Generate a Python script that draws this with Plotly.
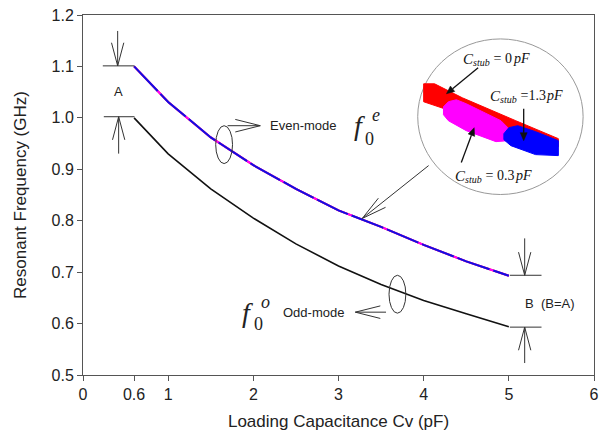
import math
import plotly.graph_objects as go

# ---- data ----
cv = [0.6, 1.0, 1.5, 2.0, 2.5, 3.0, 3.5, 4.0, 4.5, 5.0]
f_even = [1.100, 1.031, 0.962, 0.908, 0.862, 0.820, 0.788, 0.753, 0.721, 0.693]
f_odd = [1.000, 0.930, 0.862, 0.805, 0.755, 0.712, 0.676, 0.645, 0.619, 0.594]
x_ticks = [0, 0.6, 1, 2, 3, 4, 5, 6]
x_tick_labels = ["0", "0.6", "1", "2", "3", "4", "5", "6"]
y_ticks = [0.5, 0.6, 0.7, 0.8, 0.9, 1.0, 1.1, 1.2]
stub_values = ["0", "1.3", "0.3"]

W, H = 606, 447
L, R, T, B = 83, 7, 14, 72
XMIN, XMAX, YMIN, YMAX = 0, 6, 0.5, 1.2
PW, PH = W - L - R, H - T - B


def dx(px):
    return XMIN + (px - L) / PW * (XMAX - XMIN)


def dy(py):
    return YMAX - (py - T) / PH * (YMAX - YMIN)


SANS = "Arial, Liberation Sans, sans-serif"
SERIF = "Times New Roman, Liberation Serif, serif"

fig = go.Figure()
fig.add_trace(go.Scatter(x=cv, y=f_even, mode="lines", line=dict(color="#ff0000", width=2), showlegend=False))
fig.add_trace(go.Scatter(x=cv, y=f_even, mode="lines", line=dict(color="#ff00ff", width=2), showlegend=False))
fig.add_trace(go.Scatter(x=cv, y=f_even, mode="lines", line=dict(color="#1010e0", width=2, dash="34px,4px"), showlegend=False))
fig.add_trace(go.Scatter(x=cv, y=f_odd, mode="lines", line=dict(color="#111111", width=1.6), showlegend=False))

shapes = []
annos = []


def seg(p1, p2, color="#333333", width=1):
    shapes.append(dict(type="line", xref="x", yref="y", x0=dx(p1[0]), y0=dy(p1[1]),
                       x1=dx(p2[0]), y1=dy(p2[1]), line=dict(color=color, width=width)))


def varrow(tail, head, wing=24, ang=15, color="#333333", width=1):
    seg(tail, head, color, width)
    vx, vy = tail[0] - head[0], tail[1] - head[1]
    n = math.hypot(vx, vy)
    ux, uy = vx / n, vy / n
    for s in (1, -1):
        a = math.radians(ang * s)
        wx = ux * math.cos(a) - uy * math.sin(a)
        wy = ux * math.sin(a) + uy * math.cos(a)
        seg(head, (head[0] + wx * wing, head[1] + wy * wing), color, width)


def ellipse(x0, y0, x1, y1, color="#333333", width=1):
    shapes.append(dict(type="circle", xref="x", yref="y", x0=dx(x0), x1=dx(x1),
                       y0=dy(y1), y1=dy(y0), line=dict(color=color, width=width)))


def poly(pts, color, lw=1):
    path = "M " + " L ".join(f"{dx(px)},{dy(py)}" for px, py in pts) + " Z"
    shapes.append(dict(type="path", xref="x", yref="y", path=path, fillcolor=color,
                       line=dict(color=color, width=lw), layer="above"))


def farrow(tail, head, hl=8, hw=3.5, color="#111111"):
    vx, vy = head[0] - tail[0], head[1] - tail[1]
    n = math.hypot(vx, vy)
    ux, uy = vx / n, vy / n
    base = (head[0] - ux * hl, head[1] - uy * hl)
    seg(tail, base, color, 1.3)
    poly([head, (base[0] - uy * hw, base[1] + ux * hw), (base[0] + uy * hw, base[1] - ux * hw)], color, 0.5)


def text(px, py, s, size=13, family=SANS, xanchor="center", color="#222222", style="normal"):
    annos.append(dict(x=dx(px), y=dy(py), xref="x", yref="y", text=s, showarrow=False,
                      xanchor=xanchor, yanchor="middle",
                      font=dict(size=size, family=family, color=color, style=style)))


def stub_label(px, py, val):
    c = "#111111"
    text(px, py, "C", 15, SERIF, "left", c, "italic")
    text(px + 10, py + 4, "stub", 10, SERIF, "left", c, "italic")
    rest = " = " + val if val != "1.3" else " =" + val
    text(px + 27, py, rest, 14, SERIF, "left", c)
    w = 3.5 + 8 + (3.5 if val != "1.3" else 0) + 7 * sum(ch.isdigit() for ch in val) + 3.5 * val.count(".")
    text(px + 28 + w, py, "pF", 14, SERIF, "left", c, "italic")


# left reference (A)
seg((103, 65), (135, 65))
seg((104, 116), (135, 116))
varrow((118, 30), (118, 65), wing=24, ang=15)
varrow((119, 153), (119, 116), wing=24, ang=15)
text(119, 91, "A", 13)

# right reference (B)
seg((514, 275), (546, 275))
seg((514, 327), (546, 327))
varrow((529, 238), (529, 275), wing=24, ang=15)
varrow((529, 363), (529, 327), wing=24, ang=15)
text(527, 303, "B  (B=A)", 13, xanchor="left")

# even-mode marker
ellipse(217, 125, 234, 163)
varrow((229, 125), (262, 125), wing=26, ang=14)
text(270, 125, "Even-mode", 13, xanchor="left")
text(362, 125, "f", 28, SERIF, style="italic")
text(372, 138, "0", 18, SERIF)
text(379, 114, "e", 18, SERIF, style="italic")

# odd-mode marker
ellipse(392, 275, 409, 313)
varrow((389, 312), (358, 312), wing=26, ang=14)
text(283, 312, "Odd-mode", 13, xanchor="left")
text(249, 312, "f", 28, SERIF, style="italic")
text(260, 324, "0", 18, SERIF)
text(267, 302, "o", 18, SERIF, style="italic")

# inset
ellipse(421, 38, 588, 194, color="#999999", width=1)
varrow((432, 165), (365, 218), wing=26, ang=13)
poly([(427, 83), (438, 83), (466, 97), (520, 120), (563, 138), (563, 146), (520, 132), (460, 112), (427, 101)], "#ff0000")
poly([(447, 106), (452, 101), (460, 99), (470, 103), (505, 120), (512, 127), (512, 140), (500, 141), (470, 130), (452, 120), (447, 114)], "#ff00ff")
poly([(508, 133), (513, 127), (522, 125), (540, 131), (563, 140), (563, 155), (540, 154), (515, 145), (508, 139)], "#0000ff")
farrow((482, 67), (450, 93))
farrow((528, 108), (528, 140))
farrow((465, 162), (478, 127))
stub_label(465, 58, stub_values[0])
stub_label(492, 95, stub_values[1])
stub_label(457, 175, stub_values[2])

fig.update_layout(
    width=W, height=H,
    margin=dict(l=L, r=R, t=T, b=B, pad=0),
    paper_bgcolor="white", plot_bgcolor="white",
    shapes=shapes, annotations=annos,
    font=dict(family=SANS, color="#222222"),
)
fig.update_xaxes(range=[XMIN, XMAX], tickmode="array", tickvals=x_ticks, ticktext=x_tick_labels,
                 ticks="outside", ticklen=5, tickcolor="#555555", showline=True, linecolor="#555555",
                 linewidth=1, mirror=True, showgrid=False, zeroline=False,
                 tickfont=dict(size=16, family=SANS, color="#222222"),
                 title=dict(text="Loading Capacitance Cv (pF)", font=dict(size=17, family=SANS, color="#222222"), standoff=12))
fig.update_yaxes(range=[YMIN, YMAX], tickmode="array", tickvals=y_ticks,
                 ticktext=[f"{v:.1f}" for v in y_ticks],
                 ticks="outside", ticklen=5, tickcolor="#555555", showline=True, linecolor="#555555",
                 linewidth=1, mirror=True, showgrid=False, zeroline=False,
                 tickfont=dict(size=16, family=SANS, color="#222222"),
                 title=dict(text="Resonant Frequency (GHz)", font=dict(size=17, family=SANS, color="#222222"), standoff=20))

fig.write_html("out.html")
